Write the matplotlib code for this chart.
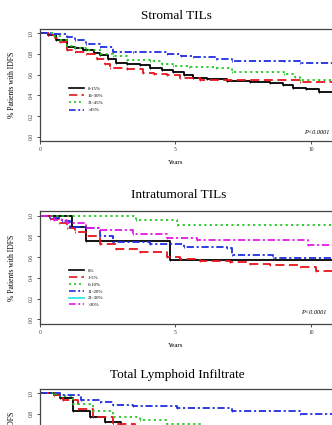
import matplotlib
matplotlib.use("Agg")
import matplotlib.pyplot as plt
from matplotlib.lines import Line2D

plt.rcParams['font.family'] = ['Liberation Serif', 'DejaVu Serif']

# ---------------- data ----------------
titles = ["Stromal TILs", "Intratumoral TILs", "Total Lymphoid Infiltrate"]
ylabel = "% Patients with IDFS"
xlabel = "Years"
pvalue = "P<0.0001"
xticks = [0, 5, 10]
yticks = [0.0, 0.2, 0.4, 0.6, 0.8, 1.0]

# Stromal TILs
stromal_labels = ["0-15%", "16-30%", "31-45%", ">45%"]
st1_t = [0, 0.3, 0.6, 0.98, 1.3, 1.6, 2.0, 2.2, 2.5, 2.8, 3.2, 3.7, 4.06, 4.5, 4.9, 5.3, 5.65, 6.15, 6.9, 7.75, 8.5, 8.97, 9.35, 9.8, 10.3, 11.0]
st1_s = [1.0, 0.98, 0.93, 0.87, 0.86, 0.84, 0.81, 0.79, 0.75, 0.715, 0.70, 0.69, 0.66, 0.645, 0.63, 0.60, 0.57, 0.555, 0.54, 0.53, 0.52, 0.50, 0.47, 0.46, 0.435, 0.435]
st2_t = [0, 0.3, 0.55, 0.74, 0.98, 1.3, 1.7, 2.1, 2.4, 2.58, 3.2, 3.8, 4.2, 4.67, 5.17, 5.9, 7.0, 8.4, 9.6, 11.0]
st2_s = [1.0, 0.98, 0.95, 0.91, 0.84, 0.82, 0.80, 0.75, 0.70, 0.66, 0.65, 0.62, 0.61, 0.60, 0.565, 0.55, 0.55, 0.55, 0.525, 0.525]
st3_t = [0, 0.5, 0.74, 0.98, 1.3, 1.7, 2.2, 2.7, 3.2, 4.06, 4.5, 4.9, 5.5, 6.5, 7.1, 8.0, 9.0, 9.4, 9.6, 11.0]
st3_s = [1.0, 0.97, 0.93, 0.88, 0.86, 0.84, 0.80, 0.78, 0.74, 0.73, 0.70, 0.68, 0.67, 0.66, 0.63, 0.63, 0.61, 0.58, 0.55, 0.55]
st4_t = [0, 0.37, 0.98, 1.3, 1.7, 2.2, 2.7, 3.45, 4.67, 5.2, 5.65, 6.5, 7.1, 9.0, 9.6, 11.0]
st4_s = [1.0, 0.99, 0.965, 0.93, 0.90, 0.87, 0.82, 0.82, 0.80, 0.78, 0.77, 0.75, 0.73, 0.73, 0.71, 0.71]

# Intratumoral TILs
intra_labels = ["0%", "1-5%", "6-10%", "11-20%", "21-30%", ">30%"]
it1_t = [0, 1.17, 1.7, 4.8, 11.0]
it1_s = [1.0, 0.89, 0.76, 0.57, 0.57]
it2_t = [0, 0.37, 0.7, 0.98, 1.3, 1.7, 2.2, 2.8, 3.7, 4.67, 5.17, 5.9, 7.0, 7.75, 8.5, 9.6, 10.2, 11.0]
it2_s = [1.0, 0.97, 0.93, 0.877, 0.84, 0.80, 0.73, 0.68, 0.65, 0.60, 0.58, 0.565, 0.55, 0.53, 0.52, 0.505, 0.465, 0.465]
it3_t = [0, 3.55, 5.04, 11.0]
it3_s = [1.0, 0.955, 0.91, 0.91]
it4_t = [0, 0.37, 0.8, 1.1, 1.7, 2.2, 2.7, 4.06, 5.3, 6.9, 7.1, 8.6, 11.0]
it4_s = [1.0, 0.98, 0.95, 0.89, 0.877, 0.80, 0.75, 0.73, 0.70, 0.685, 0.62, 0.59, 0.59]
it6_t = [0, 0.5, 0.98, 1.7, 2.2, 3.45, 4.67, 5.8, 9.9, 11.0]
it6_s = [1.0, 0.96, 0.925, 0.877, 0.86, 0.82, 0.78, 0.764, 0.72, 0.72]

# Total Lymphoid Infiltrate
tl1_t = [0, 0.5, 0.74, 1.23, 1.85, 2.4, 3.0, 4.0, 6.0, 8.0, 10.0, 11.0]
tl1_s = [1.0, 0.98, 0.95, 0.83, 0.77, 0.72, 0.68, 0.64, 0.58, 0.54, 0.50, 0.50]
tl2_t = [0, 0.5, 0.86, 1.4, 1.97, 2.7, 3.5, 5.0, 7.0, 10.0, 11.0]
tl2_s = [1.0, 0.98, 0.935, 0.85, 0.77, 0.70, 0.65, 0.60, 0.56, 0.52, 0.52]
tl3_t = [0, 0.5, 0.74, 1.23, 1.97, 2.7, 3.7, 4.67, 6.0, 8.0, 10.0, 11.0]
tl3_s = [1.0, 0.99, 0.97, 0.90, 0.83, 0.77, 0.74, 0.70, 0.66, 0.62, 0.60, 0.60]
tl4_t = [0, 0.74, 1.5, 2.2, 2.7, 3.45, 5.04, 7.1, 9.6, 11.0]
tl4_s = [1.0, 0.985, 0.935, 0.91, 0.885, 0.875, 0.86, 0.83, 0.80, 0.80]
tl_yticks = [0.8, 1.0]

# ---------------- styles ----------------
STY = {
    'k': dict(color='black', linestyle='-'),
    'r': dict(color='#e8141c', linestyle=(0, (5, 2.5))),
    'g': dict(color='#1ec81e', linestyle=(0, (1.2, 1.8))),
    'b': dict(color='#1f2ee0', linestyle=(0, (4, 1.5, 1.2, 1.5))),
    'c': dict(color='#19e6e6', linestyle='-'),
    'm': dict(color='#e619e6', linestyle=(0, (4, 1.5, 1.2, 1.5))),
}

W, H = 332, 425
fig = plt.figure(figsize=(W / 100, H / 100), dpi=100)

def px_axes(top, height=112):
    left = 40
    width = 325.2
    return fig.add_axes([left / W, (H - top - height) / H, width / W, height / H])

def style_axes(ax, yt=yticks, with_x=True):
    ax.set_xlim(0, 12)
    ax.set_ylim(-0.04, 1.04)
    ax.set_yticks(yt)
    ax.set_yticklabels([f"{v:.1f}" for v in yt], rotation=90, va='center')
    if with_x:
        ax.set_xticks(xticks)
        ax.set_xlabel(xlabel, fontsize=5, labelpad=2)
        ax.xaxis.set_label_coords(5 / 12, -0.17)
    else:
        ax.set_xticks([])
    ax.tick_params(labelsize=4, length=2.5, width=0.6, pad=2, colors='#333333')
    for s in ax.spines.values():
        s.set_linewidth(0.9)
        s.set_color('#444444')
    ax.set_ylabel(ylabel, fontsize=5.5, labelpad=3)
    ax.yaxis.set_label_coords(-0.075, 0.5)

def draw(ax, t, s, key):
    ax.step(t, s, where='post', lw=1.3, marker='|', markersize=2.0,
            markeredgewidth=0.6, **STY[key])

# Panel 1
ax1 = px_axes(29)
style_axes(ax1)
for (t, s), k in zip([(st1_t, st1_s), (st2_t, st2_s), (st3_t, st3_s), (st4_t, st4_s)], 'krgb'):
    draw(ax1, t, s, k)
h1 = [Line2D([], [], lw=1.2, **STY[k]) for k in 'krgb']
ax1.legend(h1, stromal_labels, loc='upper left', bbox_to_anchor=(0.09, 0.49),
           frameon=False, fontsize=3.5, handlelength=3, labelspacing=0.6,
           borderpad=0, borderaxespad=0, handletextpad=0.8)
fig.text(329 / W, 1 - 132 / H, pvalue, fontsize=4.5, ha='right', va='center', style='italic')
fig.text(176 / W, 1 - 16 / H, titles[0], fontsize=9.5, ha='center', va='center')

# Panel 2
ax2 = px_axes(211.5)
style_axes(ax2)
for (t, s), k in zip([(it1_t, it1_s), (it2_t, it2_s), (it3_t, it3_s), (it4_t, it4_s), (it6_t, it6_s)], 'krgbm'):
    draw(ax2, t, s, k)
h2 = [Line2D([], [], lw=1.2, **STY[k]) for k in 'krgbcm']
ax2.legend(h2, intra_labels, loc='upper left', bbox_to_anchor=(0.09, 0.49),
           frameon=False, fontsize=3.5, handlelength=3, labelspacing=0.5,
           borderpad=0, borderaxespad=0, handletextpad=0.8)
fig.text(326 / W, 1 - 312 / H, pvalue, fontsize=4.5, ha='right', va='center', style='italic')
fig.text(179 / W, 1 - 195 / H, titles[1], fontsize=9.5, ha='center', va='center')

# Panel 3
ax3 = px_axes(389)
style_axes(ax3, yt=tl_yticks, with_x=False)
for (t, s), k in zip([(tl1_t, tl1_s), (tl2_t, tl2_s), (tl3_t, tl3_s), (tl4_t, tl4_s)], 'krgb'):
    draw(ax3, t, s, k)
fig.text(177 / W, 1 - 375 / H, titles[2], fontsize=9.5, ha='center', va='center')

fig.savefig("out.png", dpi=100)
